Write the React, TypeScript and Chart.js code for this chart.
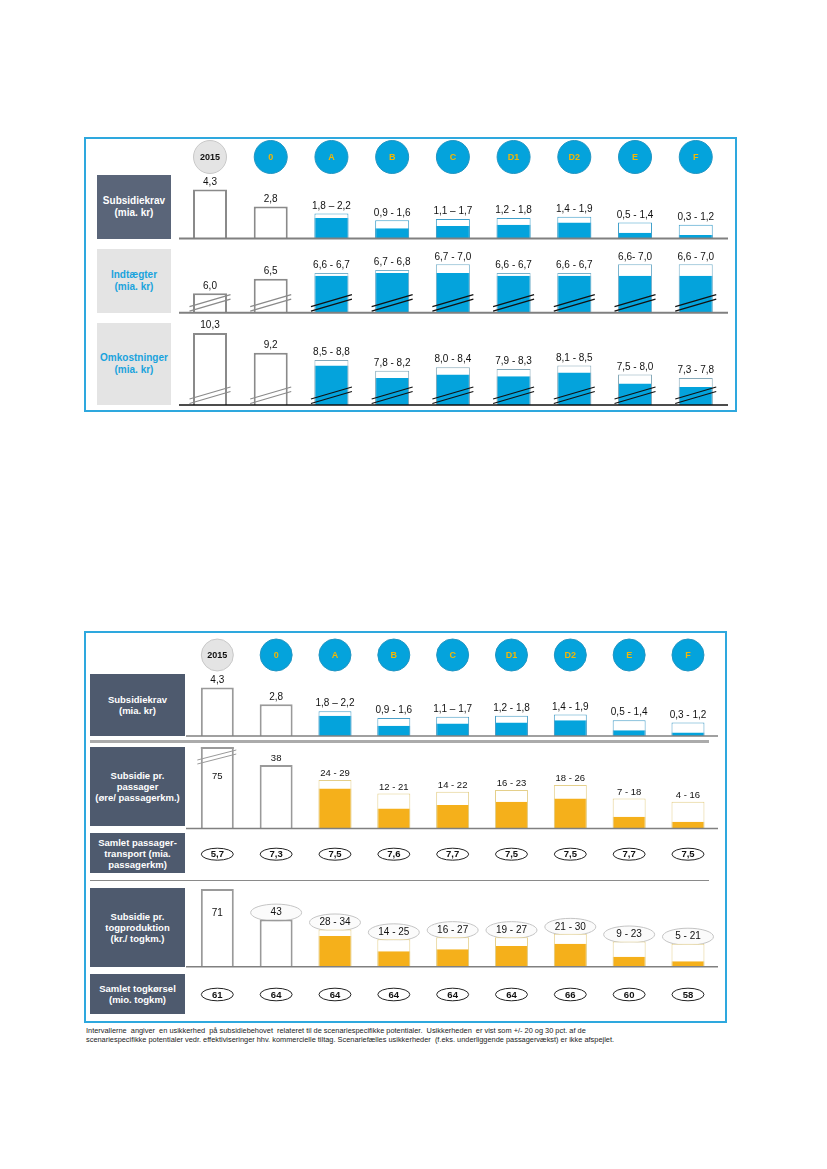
import React, { useEffect, useRef } from 'react';
import { Chart, registerables } from 'chart.js';

Chart.register(...registerables);

const FONT = '"Liberation Sans", Arial, Helvetica, sans-serif';

// ---------------- data ----------------
const categories = ['2015', '0', 'A', 'B', 'C', 'D1', 'D2', 'E', 'F'];
const referenceCount = 2; // '2015' and '0' are single values (white bars)

const subsidyLow = [4.3, 2.8, 1.8, 0.9, 1.1, 1.2, 1.4, 0.5, 0.3];
const subsidyHigh = [4.3, 2.8, 2.2, 1.6, 1.7, 1.8, 1.9, 1.4, 1.2];
const subsidyLabels = ['4,3', '2,8', '1,8 – 2,2', '0,9 - 1,6', '1,1 – 1,7', '1,2 - 1,8', '1,4 - 1,9', '0,5 - 1,4', '0,3 - 1,2'];

const revenueLow = [6.0, 6.5, 6.6, 6.7, 6.7, 6.6, 6.6, 6.6, 6.6];
const revenueHigh = [6.0, 6.5, 6.7, 6.8, 7.0, 6.7, 6.7, 7.0, 7.0];
const revenueLabels = ['6,0', '6,5', '6,6 - 6,7', '6,7 - 6,8', '6,7 - 7,0', '6,6 - 6,7', '6,6 - 6,7', '6,6- 7,0', '6,6 - 7,0'];

const costLow = [10.3, 9.2, 8.5, 7.8, 8.0, 7.9, 8.1, 7.5, 7.3];
const costHigh = [10.3, 9.2, 8.8, 8.2, 8.4, 8.3, 8.5, 8.0, 7.8];
const costLabels = ['10,3', '9,2', '8,5 - 8,8', '7,8 - 8,2', '8,0 - 8,4', '7,9 - 8,3', '8,1 - 8,5', '7,5 - 8,0', '7,3 - 7,8'];

const perPassengerLow = [75, 38, 24, 12, 14, 16, 18, 7, 4];
const perPassengerHigh = [75, 38, 29, 21, 22, 23, 26, 18, 16];
const perPassengerLabels = ['75', '38', '24 - 29', '12 - 21', '14 - 22', '16 - 23', '18 - 26', '7 - 18', '4 - 16'];

const passengerKm = [5.7, 7.3, 7.5, 7.6, 7.7, 7.5, 7.5, 7.7, 7.5];

const perTrainKmLow = [71, 43, 28, 14, 16, 19, 21, 9, 5];
const perTrainKmHigh = [71, 43, 34, 25, 27, 27, 30, 23, 21];
const perTrainKmLabels = ['71', '43', '28 - 34', '14 - 25', '16 - 27', '19 - 27', '21 - 30', '9 - 23', '5 - 21'];

const trainKm = [61, 64, 64, 64, 64, 64, 66, 60, 58];

const fmt1 = (v: number) => v.toFixed(1).replace('.', ',');

// ---------------- layout / style ----------------
const BLUE = '#04a3dc';
const ORANGE = '#f5b01b';

type RowCfg = {
  left: number; top: number; width: number; height: number;
  areaLeft: number; areaRight: number; areaTop: number; areaBottom: number;
  yMin: number; yMax: number;
  low?: number[]; high?: number[];
  fill?: string; outline?: string; outlineWidth?: number;
  refOutline?: string; refWidth?: number;
  header?: { y: number; r: number };
  baseline?: { color: string; width: number; x1: number; x2: number };
  breaks?: 'bottom' | 'topFirst';
  labels?: string[]; labelFont?: number; labelGap?: number;
  labelStyle?: 'plain' | 'ellipse';
  ellipse?: { rx: number; ry: number };
  insideFirst?: number;
  clipTop?: number;
  ellipseRow?: { texts: string[]; y: number; rx: number; ry: number; font: number };
};

const P1 = { canvasLeft: 172, canvasRight: 736, areaLeft: 179.65, areaRight: 726.1 };
const P2 = { canvasLeft: 180, canvasRight: 726, areaLeft: 187.9, areaRight: 717.4 };

function rowBox(p: typeof P1, top: number, bottom: number, areaTop: number, areaBottom: number) {
  return {
    left: p.canvasLeft, width: p.canvasRight - p.canvasLeft,
    top, height: bottom - top,
    areaLeft: p.areaLeft, areaRight: p.areaRight, areaTop, areaBottom,
  };
}

const p1r1: RowCfg = {
  ...rowBox(P1, 139, 241, 176, 238.5),
  yMin: 0, yMax: 62.5 / 11.4,
  low: subsidyLow, high: subsidyHigh, fill: BLUE, outline: '#3f9fca', outlineWidth: 1,
  refOutline: '#8a8a8a', refWidth: 2,
  header: { y: 157, r: 16.5 },
  baseline: { color: '#808080', width: 2, x1: 179, x2: 728 },
  labels: subsidyLabels, labelFont: 10, labelGap: 7.5, labelStyle: 'plain',
};
const p1r2: RowCfg = {
  ...rowBox(P1, 243, 315, 250, 312.7),
  yMin: 5.33, yMax: 5.33 + 62.7 / 29,
  low: revenueLow, high: revenueHigh, fill: BLUE, outline: '#79b2cc', outlineWidth: 1,
  refOutline: '#8a8a8a', refWidth: 2,
  baseline: { color: '#808080', width: 2, x1: 179, x2: 728 },
  breaks: 'bottom',
  labels: revenueLabels, labelFont: 10, labelGap: 7.5, labelStyle: 'plain',
};
const p1r3: RowCfg = {
  ...rowBox(P1, 318, 408, 326, 405),
  yMin: 6.3, yMax: 6.3 + 79 / 18,
  low: costLow, high: costHigh, fill: BLUE, outline: '#86a9b9', outlineWidth: 1,
  refOutline: '#8a8a8a', refWidth: 2,
  baseline: { color: '#111111', width: 1.5, x1: 179, x2: 728 },
  breaks: 'bottom',
  labels: costLabels, labelFont: 10, labelGap: 7.5, labelStyle: 'plain',
};

const p2r1: RowCfg = {
  ...rowBox(P2, 634, 739, 680, 736),
  yMin: 0, yMax: 56 / 11.3,
  low: subsidyLow, high: subsidyHigh, fill: BLUE, outline: '#4a9fc8', outlineWidth: 1,
  refOutline: '#9a9a9a', refWidth: 2,
  header: { y: 655, r: 16 },
  baseline: { color: '#808080', width: 1.5, x1: 186, x2: 718 },
  labels: subsidyLabels, labelFont: 10, labelGap: 7.5, labelStyle: 'plain',
};
const p2r2: RowCfg = {
  ...rowBox(P2, 744, 831, 747, 828.5),
  yMin: 0, yMax: 81.5 / 1.67,
  low: perPassengerLow, high: perPassengerHigh, fill: ORANGE, outline: '#e4cf8a', outlineWidth: 1,
  refOutline: '#9a9a9a', refWidth: 2,
  baseline: { color: '#808080', width: 1.5, x1: 186, x2: 718 },
  breaks: 'topFirst', clipTop: 0,
  labels: perPassengerLabels, labelFont: 9.5, labelGap: 6.5, labelStyle: 'plain', insideFirst: 29,
};
const p2r3: RowCfg = {
  ...rowBox(P2, 834, 876, 850, 870),
  yMin: 0, yMax: 1,
  ellipseRow: { texts: passengerKm.map(fmt1), y: 854.2, rx: 16, ry: 6, font: 9.5 },
};
const p2r4: RowCfg = {
  ...rowBox(P2, 884, 970, 966.7 - 71 * 1.095, 966.7),
  yMin: 0, yMax: 71,
  low: perTrainKmLow, high: perTrainKmHigh, fill: ORANGE, outline: '#e4cf8a', outlineWidth: 1,
  refOutline: '#9a9a9a', refWidth: 2,
  baseline: { color: '#808080', width: 1.5, x1: 186, x2: 718 },
  labels: perTrainKmLabels, labelFont: 10, labelGap: 7, labelStyle: 'ellipse',
  ellipse: { rx: 25.5, ry: 8.5 }, insideFirst: 24,
};
const p2r5: RowCfg = {
  ...rowBox(P2, 975, 1015, 985, 1005),
  yMin: 0, yMax: 1,
  ellipseRow: { texts: trainKm.map(String), y: 994.5, rx: 16, ry: 6.3, font: 9.5 },
};

function makePlugin(cfg: RowCfg) {
  return {
    id: 'rowDeco',
    beforeDatasetsDraw(chart: any) {
      if (cfg.labelStyle !== 'ellipse' || !cfg.labels || !cfg.ellipse) return;
      const ctx = chart.ctx;
      const meta = chart.getDatasetMeta(0);
      ctx.save();
      cfg.labels.forEach((_t, i) => {
        if (i === 0 && cfg.insideFirst != null) return;
        const el = meta.data[i];
        ctx.beginPath();
        ctx.ellipse(el.x, el.y - (cfg.labelGap || 0), cfg.ellipse!.rx, cfg.ellipse!.ry, 0, 0, Math.PI * 2);
        ctx.fillStyle = '#fbfbfb';
        ctx.fill();
        ctx.lineWidth = 1;
        ctx.strokeStyle = '#c4c4c4';
        ctx.stroke();
      });
      ctx.restore();
    },
    afterDatasetsDraw(chart: any) {
      const ctx = chart.ctx;
      const area = chart.chartArea;
      const xs = chart.scales.x;
      const ox = cfg.left;
      const oy = cfg.top;
      ctx.save();
      ctx.textAlign = 'center';
      ctx.textBaseline = 'middle';

      if (cfg.baseline) {
        ctx.strokeStyle = cfg.baseline.color;
        ctx.lineWidth = cfg.baseline.width;
        ctx.beginPath();
        ctx.moveTo(cfg.baseline.x1 - ox, area.bottom);
        ctx.lineTo(cfg.baseline.x2 - ox, area.bottom);
        ctx.stroke();
      }

      if (cfg.header) {
        categories.forEach((c, i) => {
          const x = xs.getPixelForValue(i);
          const y = cfg.header!.y - oy;
          const isRef = i === 0;
          ctx.beginPath();
          ctx.arc(x, y, cfg.header!.r, 0, Math.PI * 2);
          ctx.fillStyle = isRef ? '#e4e4e4' : BLUE;
          ctx.fill();
          ctx.lineWidth = 1;
          ctx.strokeStyle = isRef ? '#c8c8c8' : '#2295c2';
          ctx.stroke();
          ctx.fillStyle = isRef ? '#111111' : '#f2b705';
          ctx.font = `bold 9px ${FONT}`;
          ctx.fillText(c, x, y + 0.5);
        });
      }

      const meta = chart.getDatasetMeta(0);
      if (cfg.breaks === 'bottom' && meta && meta.data.length) {
        meta.data.forEach((el: any, i: number) => {
          const L = el.x - el.width / 2 - 3.5;
          const R = el.x + el.width / 2 + 3.5;
          const B = area.bottom;
          ctx.strokeStyle = i < referenceCount ? '#8a8a8a' : '#111111';
          ctx.lineWidth = 1.2;
          ctx.beginPath();
          ctx.moveTo(L, B - 1.5); ctx.lineTo(R, B - 13.5);
          ctx.moveTo(L, B - 6); ctx.lineTo(R, B - 18);
          ctx.stroke();
        });
      }
      if (cfg.breaks === 'topFirst' && meta && meta.data.length) {
        const el = meta.data[0];
        const l = el.x - el.width / 2;
        const r = el.x + el.width / 2;
        const T = area.top;
        ctx.strokeStyle = cfg.refOutline || '#999';
        ctx.lineWidth = 2;
        ctx.beginPath();
        ctx.moveTo(l, T + 1); ctx.lineTo(r, T + 1);
        ctx.stroke();
        ctx.strokeStyle = '#9a9a9a';
        ctx.lineWidth = 1;
        ctx.beginPath();
        ctx.moveTo(l - 3.5, T + 13); ctx.lineTo(r + 2.5, T + 3);
        ctx.moveTo(l - 3.5, T + 17); ctx.lineTo(r + 2.5, T + 7);
        ctx.stroke();
      }

      if (cfg.labels && meta && meta.data.length) {
        ctx.fillStyle = '#111111';
        ctx.font = `${cfg.labelFont}px ${FONT}`;
        cfg.labels.forEach((t, i) => {
          const el = meta.data[i];
          const top = Math.max(el.y, area.top);
          const y = i === 0 && cfg.insideFirst != null ? top + cfg.insideFirst : el.y - (cfg.labelGap || 0);
          ctx.fillText(t, el.x, y);
        });
      }

      if (cfg.ellipseRow) {
        const er = cfg.ellipseRow;
        er.texts.forEach((t, i) => {
          const x = xs.getPixelForValue(i);
          const y = er.y - oy;
          ctx.beginPath();
          ctx.ellipse(x, y, er.rx, er.ry, 0, 0, Math.PI * 2);
          ctx.fillStyle = '#ffffff';
          ctx.fill();
          ctx.lineWidth = 1;
          ctx.strokeStyle = '#222222';
          ctx.stroke();
          ctx.fillStyle = '#111111';
          ctx.font = `bold ${er.font}px ${FONT}`;
          ctx.fillText(t, x, y + 0.5);
        });
      }
      ctx.restore();
    },
  };
}

function buildConfig(cfg: RowCfg): any {
  const datasets: any[] = [];
  if (cfg.high && cfg.low) {
    datasets.push({
      data: cfg.high,
      order: 2,
      grouped: false,
      categoryPercentage: 1,
      barPercentage: 0.56,
      backgroundColor: '#ffffff',
      borderColor: (c: any) => (c.dataIndex < referenceCount ? cfg.refOutline : cfg.outline),
      borderWidth: (c: any) => (c.dataIndex < referenceCount ? cfg.refWidth : cfg.outlineWidth),
      borderSkipped: 'start',
      clip: { left: 10, right: 10, top: cfg.clipTop ?? 10, bottom: 0 },
    });
    datasets.push({
      data: cfg.low.map((v, i) => (i < referenceCount ? null : v)),
      order: 1,
      grouped: false,
      categoryPercentage: 1,
      barPercentage: 0.56,
      backgroundColor: cfg.fill,
      borderColor: cfg.outline,
      borderWidth: { top: 0, left: cfg.outlineWidth || 0, right: cfg.outlineWidth || 0, bottom: 0 },
      borderSkipped: 'start',
      clip: { left: 10, right: 10, top: 10, bottom: 0 },
    });
  }
  return {
    type: 'bar',
    data: { labels: categories, datasets },
    options: {
      responsive: false,
      animation: false,
      events: [],
      layout: {
        padding: {
          left: cfg.areaLeft - cfg.left,
          right: cfg.left + cfg.width - cfg.areaRight,
          top: cfg.areaTop - cfg.top,
          bottom: cfg.top + cfg.height - cfg.areaBottom,
        },
      },
      plugins: { legend: { display: false }, tooltip: { enabled: false }, title: { display: false } },
      scales: {
        x: { type: 'category', display: false, offset: true, grid: { display: false } },
        y: { type: 'linear', display: false, min: cfg.yMin, max: cfg.yMax, grid: { display: false } },
      },
    },
    plugins: [makePlugin(cfg)],
  };
}

function RowChart({ cfg }: { cfg: RowCfg }) {
  const ref = useRef<HTMLCanvasElement>(null);
  useEffect(() => {
    const chart = new Chart(ref.current as HTMLCanvasElement, buildConfig(cfg));
    return () => chart.destroy();
  }, [cfg]);
  return (
    <canvas
      ref={ref}
      width={cfg.width}
      height={cfg.height}
      style={{ position: 'absolute', left: cfg.left, top: cfg.top, width: cfg.width, height: cfg.height }}
    />
  );
}

function LabelBox(props: { left: number; top: number; width: number; height: number; bg: string; color: string; size: number; lh: number; text: string }) {
  const { left, top, width, height, bg, color, size, lh, text } = props;
  return (
    <div
      style={{
        position: 'absolute', left, top, width, height, background: bg, color,
        display: 'flex', alignItems: 'center', justifyContent: 'center', textAlign: 'center',
        fontWeight: 'bold', fontSize: size, lineHeight: `${lh}px`, whiteSpace: 'pre-line', fontFamily: FONT,
      }}
    >
      {text}
    </div>
  );
}

const DARK1 = '#5a6579';
const DARK2 = '#4e5a6e';
const LIGHT = '#e4e4e4';
const LIGHT_TEXT = '#1aa3dd';
const PANEL_BORDER = '#2ea8de';

export default function App() {
  return (
    <div style={{ position: 'absolute', left: 0, top: 0, width: 827, height: 1169, background: '#ffffff', fontFamily: FONT, overflow: 'hidden' }}>
      {/* panel 1 */}
      <div style={{ position: 'absolute', left: 84, top: 137, width: 653, height: 275, border: `2px solid ${PANEL_BORDER}`, boxSizing: 'border-box' }} />
      <LabelBox left={97} top={175} width={74} height={64} bg={DARK1} color="#ffffff" size={10} lh={12} text={'Subsidiekrav\n(mia. kr)'} />
      <LabelBox left={97} top={249} width={74} height={64} bg={LIGHT} color={LIGHT_TEXT} size={10} lh={12} text={'Indtægter\n(mia. kr)'} />
      <LabelBox left={97} top={323} width={74} height={82} bg={LIGHT} color={LIGHT_TEXT} size={10} lh={12} text={'Omkostninger\n(mia. kr)'} />
      <RowChart cfg={p1r1} />
      <RowChart cfg={p1r2} />
      <RowChart cfg={p1r3} />

      {/* panel 2 */}
      <div style={{ position: 'absolute', left: 84, top: 631, width: 643, height: 392, border: `2px solid ${PANEL_BORDER}`, boxSizing: 'border-box' }} />
      <LabelBox left={90} top={674} width={95} height={62} bg={DARK2} color="#ffffff" size={9.5} lh={11} text={'Subsidiekrav\n(mia. kr)'} />
      <LabelBox left={90} top={747} width={95} height={79} bg={DARK2} color="#ffffff" size={9.5} lh={11} text={'Subsidie pr.\npassager\n(øre/ passagerkm.)'} />
      <LabelBox left={90} top={833} width={95} height={40} bg={DARK2} color="#ffffff" size={9.5} lh={11} text={'Samlet passager-\ntransport (mia.\npassagerkm)'} />
      <LabelBox left={90} top={888} width={95} height={79} bg={DARK2} color="#ffffff" size={9.5} lh={11} text={'Subsidie pr.\ntogproduktion\n(kr./ togkm.)'} />
      <LabelBox left={90} top={974} width={95} height={40} bg={DARK2} color="#ffffff" size={9.5} lh={11} text={'Samlet togkørsel\n(mio. togkm)'} />
      <div style={{ position: 'absolute', left: 90, top: 740, width: 619, height: 3, background: '#ababab' }} />
      <div style={{ position: 'absolute', left: 90, top: 880, width: 619, height: 1, background: '#8a8a8a' }} />
      <RowChart cfg={p2r1} />
      <RowChart cfg={p2r2} />
      <RowChart cfg={p2r3} />
      <RowChart cfg={p2r4} />
      <RowChart cfg={p2r5} />

      {/* footnote */}
      <div style={{ position: 'absolute', left: 86, top: 1026, fontSize: 7.4, lineHeight: '9px', color: '#222222', whiteSpace: 'pre', fontFamily: FONT }}>
        {'Intervallerne  angiver  en usikkerhed  på subsidiebehovet  relateret til de scenariespecifikke potentialer.  Usikkerheden  er vist som +/- 20 og 30 pct. af de\nscenariespecifikke potentialer vedr. effektiviseringer hhv. kommercielle tiltag. Scenariefælles usikkerheder  (f.eks. underliggende passagervækst) er ikke afspejlet.'}
      </div>
    </div>
  );
}
